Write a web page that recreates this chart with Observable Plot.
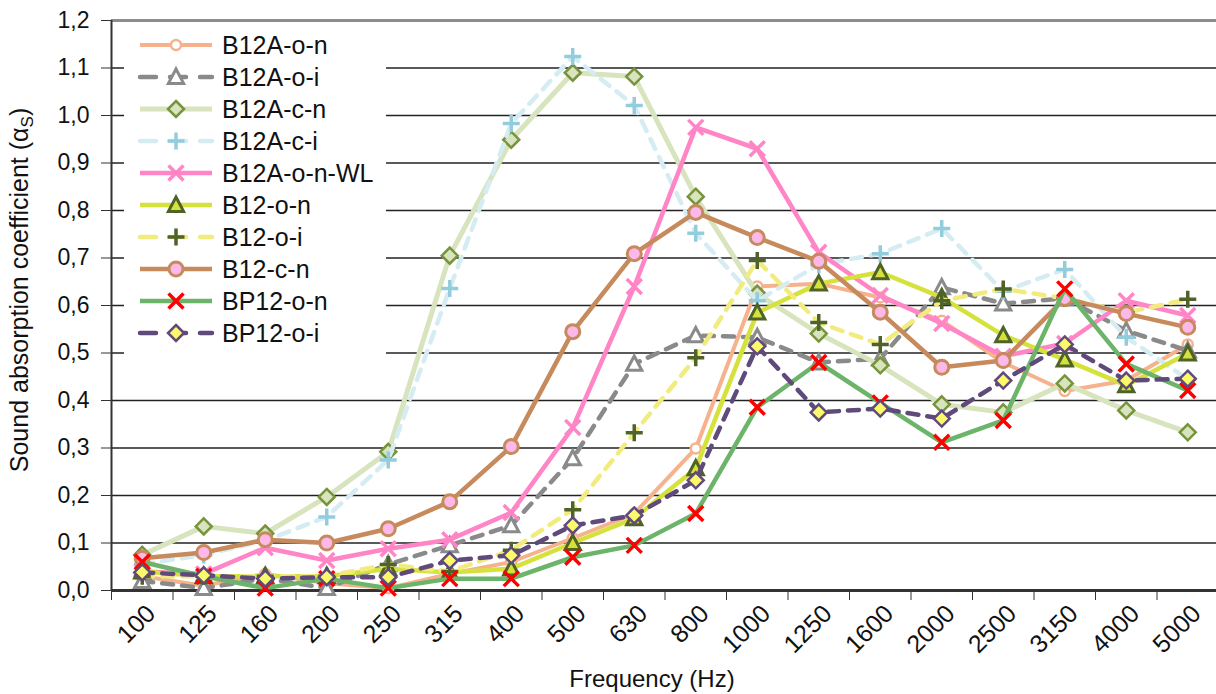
<!DOCTYPE html>
<html><head><meta charset="utf-8">
<script src="https://cdn.jsdelivr.net/npm/d3@7"></script>
<script src="https://cdn.jsdelivr.net/npm/@observablehq/plot@0.6"></script>
<style>
html,body{margin:0;padding:0;background:#fff;}
#chart{width:1216px;height:694px;overflow:hidden;}
</style>
</head><body><div id="chart"></div>
<script>
// ---- data ----
const frequencies = ["100","125","160","200","250","315","400","500","630","800","1000","1250","1600","2000","2500","3150","4000","5000"];
const seriesNames = ["B12A-o-n","B12A-o-i","B12A-c-n","B12A-c-i","B12A-o-n-WL","B12-o-n","B12-o-i","B12-c-n","BP12-o-n","BP12-o-i"];
const B12A_o_n    = [0.03,0.01,0.035,0.015,0.005,0.035,0.06,0.11,0.162,0.299,0.64,0.646,0.617,0.568,0.48,0.42,0.442,0.518];
const B12A_o_i    = [0.02,0.005,0.025,0.005,0.055,0.095,0.137,0.278,0.477,0.537,0.533,0.48,0.488,0.638,0.604,0.615,0.547,0.505];
const B12A_c_n    = [0.075,0.135,0.12,0.197,0.292,0.705,0.949,1.09,1.082,0.829,0.625,0.541,0.474,0.392,0.375,0.436,0.379,0.333];
const B12A_c_i    = [0.055,0.075,0.105,0.155,0.275,0.636,0.983,1.124,1.021,0.752,0.61,0.686,0.709,0.762,0.63,0.676,0.533,0.445];
const B12A_o_n_WL = [0.04,0.035,0.09,0.063,0.088,0.107,0.164,0.343,0.64,0.975,0.93,0.712,0.621,0.562,0.493,0.52,0.61,0.579];
const B12_o_n     = [0.04,0.03,0.03,0.03,0.046,0.038,0.046,0.1,0.152,0.257,0.585,0.646,0.67,0.617,0.537,0.486,0.432,0.499];
const B12_o_i     = [0.03,0.03,0.03,0.03,0.055,0.04,0.085,0.17,0.332,0.49,0.695,0.564,0.518,0.61,0.635,0.615,0.585,0.613];
const B12_c_n     = [0.068,0.08,0.107,0.1,0.13,0.187,0.303,0.545,0.709,0.796,0.743,0.693,0.586,0.47,0.484,0.615,0.583,0.554];
const BP12_o_n    = [0.06,0.03,0.005,0.025,0.005,0.025,0.025,0.07,0.095,0.162,0.386,0.48,0.395,0.312,0.358,0.635,0.477,0.421];
const BP12_o_i    = [0.038,0.032,0.025,0.028,0.028,0.063,0.074,0.137,0.158,0.232,0.514,0.375,0.383,0.362,0.442,0.518,0.442,0.446];
const seriesValues = [B12A_o_n,B12A_o_i,B12A_c_n,B12A_c_i,B12A_o_n_WL,B12_o_n,B12_o_i,B12_c_n,BP12_o_n,BP12_o_i];
const yTicks = [0,0.1,0.2,0.3,0.4,0.5,0.6,0.7,0.8,0.9,1.0,1.1,1.2];
const xTitle = "Frequency (Hz)";
const yTitleMain = "Sound absorption coefficient (α";
const yTitleSub = "S";
const yTitleEnd = ")";

// ---- custom symbols (radius derived from Plot's size = πr²) ----
const R = s => Math.sqrt(s / Math.PI);
const symCircle = {draw(c, s){const r=R(s); c.moveTo(r,0); c.arc(0,0,r,0,2*Math.PI); c.closePath();}};
const symDiamond = {draw(c, s){const r=R(s); c.moveTo(0,-r); c.lineTo(r,0); c.lineTo(0,r); c.lineTo(-r,0); c.closePath();}};
const symTriangle = {draw(c, s){const r=R(s); c.moveTo(0,-r); c.lineTo(r*0.95,r*0.8); c.lineTo(-r*0.95,r*0.8); c.closePath();}};
const symPlus = {draw(c, s){const r=R(s); c.moveTo(-r,0); c.lineTo(r,0); c.moveTo(0,-r); c.lineTo(0,r);}};
const symTimes = {draw(c, s){const r=R(s)*0.75; c.moveTo(-r,-r); c.lineTo(r,r); c.moveTo(r,-r); c.lineTo(-r,r);}};

const styles = [
  {line:"#F6B28C", lw:4, dash:null, sym:symCircle, r:5, fill:"#fff", stroke:"#F6B28C", sw:2.5},
  {line:"#8A8A8A", lw:4.5, dash:"11,9", sym:symTriangle, r:8, fill:"#fff", stroke:"#8A8A8A", sw:3},
  {line:"#D7E4BD", lw:5, dash:null, sym:symDiamond, r:8, fill:"#D7E4BD", stroke:"#77933C", sw:2.5},
  {line:"#D6ECF3", lw:4.5, dash:"11,9", sym:symPlus, r:8.5, fill:"none", stroke:"#93CDDD", sw:3.5},
  {line:"#FF85C6", lw:4.5, dash:null, sym:symTimes, r:10, fill:"none", stroke:"#FF85C6", sw:3.5},
  {line:"#D6E23C", lw:4.5, dash:null, sym:symTriangle, r:8, fill:"#D6E23C", stroke:"#4F6228", sw:3},
  {line:"#F2EC7E", lw:4.5, dash:"11,9", sym:symPlus, r:8.5, fill:"none", stroke:"#4F6228", sw:3.5},
  {line:"#C68A5C", lw:4.5, dash:null, sym:symCircle, r:7, fill:"#FBB8E8", stroke:"#C68A5C", sw:3},
  {line:"#6CB46A", lw:4.5, dash:null, sym:symTimes, r:10, fill:"none", stroke:"#FF0000", sw:3.5},
  {line:"#604A7B", lw:4.5, dash:"11,9", sym:symDiamond, r:8, fill:"#FAFA6A", stroke:"#604A7B", sw:2.5}
];

const FONT = "'Liberation Sans', Arial, sans-serif";
const idx = frequencies.map((f, i) => i);
const bounds = d3.range(-0.5, 18, 1);

const marks = [
  Plot.ruleY(yTicks.slice(1, -1), {stroke:"#222", strokeWidth:1.5}),
  Plot.ruleY([1.2], {stroke:"#8c8c8c", strokeWidth:3}),
  Plot.axisY({ticks: yTicks, tickFormat: d => d.toFixed(1).replace(".", ","), tickSize: 10, tickPadding: 12, label: null, fontSize: 23, stroke:"#333"}),
  Plot.axisX({ticks: bounds, tickFormat: () => "", tickSize: 10, label: null, stroke:"#333"}),
  Plot.ruleX([-0.5], {stroke:"#333", strokeWidth:2}),
  Plot.ruleY([0], {stroke:"#333", strokeWidth:3}),
  Plot.text(idx, {x: i => i, y: 0, text: i => frequencies[i], rotate: -45, textAnchor: "end", lineAnchor: "top", dx: 2, dy: 12, fontSize: 25, fill:"#111"})
];

seriesValues.forEach((vals, k) => {
  const st = styles[k];
  const rows = vals.map((v, i) => ({i, v}));
  marks.push(Plot.line(rows, {x: "i", y: "v", stroke: st.line, strokeWidth: st.lw, strokeDasharray: st.dash || undefined, strokeLinecap: st.dash ? "round" : "butt", strokeLinejoin: "round"}));
  marks.push(Plot.dot(rows, {x: "i", y: "v", symbol: st.sym, r: st.r, fill: st.fill, stroke: st.stroke, strokeWidth: st.sw}));
});

const chart = Plot.plot({
  width: 1216, height: 694,
  marginLeft: 111, marginRight: -2, marginTop: 20, marginBottom: 104,
  x: {type: "linear", domain: [-0.5, 17.5], axis: null},
  y: {domain: [0, 1.2], axis: null},
  style: {fontFamily: FONT, fontSize: "23px", color: "#111", background: "#fff", overflow: "hidden"},
  marks
});
document.getElementById("chart").appendChild(chart);

// ---- titles ----
const svg = d3.select(chart);
const yt = svg.append("text")
  .attr("transform", "translate(28,290) rotate(-90)")
  .attr("text-anchor", "middle")
  .attr("font-family", FONT).attr("font-size", 25).attr("fill", "#111");
yt.append("tspan").text(yTitleMain);
yt.append("tspan").attr("font-size", 17).attr("dy", 5).text(yTitleSub);
yt.append("tspan").attr("dy", -5).text(yTitleEnd);

svg.append("text").attr("x", 652).attr("y", 687).attr("text-anchor", "middle")
  .attr("font-family", FONT).attr("font-size", 24).attr("fill", "#111").text(xTitle);

// ---- legend ----
const lg = svg.append("g");
lg.append("rect").attr("x", 124).attr("y", 26).attr("width", 262).attr("height", 340).attr("fill", "#fff");
seriesNames.forEach((name, k) => {
  const st = styles[k];
  const yy = 45 + 32 * k;
  lg.append("line").attr("x1", 140).attr("x2", 212).attr("y1", yy).attr("y2", yy)
    .attr("stroke", st.line).attr("stroke-width", st.lw)
    .attr("stroke-dasharray", st.dash ? "16,14" : null)
    .attr("stroke-linecap", st.dash ? "round" : "butt");
  lg.append("path").attr("transform", `translate(176,${yy})`)
    .attr("d", d3.symbol(st.sym, Math.PI * st.r * st.r)())
    .attr("fill", st.fill).attr("stroke", st.stroke).attr("stroke-width", st.sw);
  lg.append("text").attr("x", 222).attr("y", yy).attr("dy", "0.36em")
    .attr("text-anchor", "start")
    .attr("font-family", FONT).attr("font-size", 25).attr("fill", "#111").text(name);
});
</script>
</body></html>
